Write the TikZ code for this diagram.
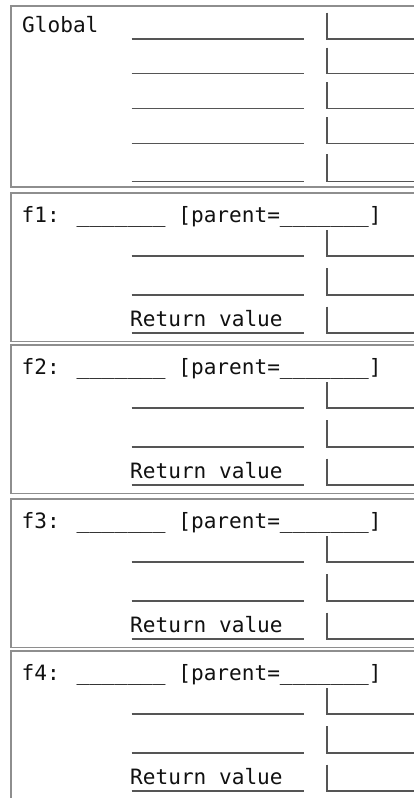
\documentclass[tikz,border=0pt]{standalone}
\usepackage{fontspec}
\newfontfamily\codefont{DejaVu Sans Mono}
\definecolor{framegray}{HTML}{8E8E8E}
\definecolor{linegray}{HTML}{555555}
\definecolor{txtgray}{HTML}{111111}
\begin{document}
\begin{tikzpicture}[x=1pt,y=-1pt,
  frame/.style={draw=framegray,line width=1.7pt},
  blank/.style={draw=linegray,line width=1.3pt},
  slot/.style={draw=linegray,line width=1.3pt},
  lbl/.style={inner sep=0pt,anchor=base west,text=txtgray,
    font=\codefont\fontsize{21.1}{26}\selectfont}]
\useasboundingbox (0,0) rectangle (414,798);
\clip (0,0) rectangle (414,798);
\fill[white] (0,0) rectangle (414,798);
% Global frame
\draw[frame] (11,6) rectangle (425,187);
\node[lbl] (global) at (22,32.3) {Global};
\foreach \ly/\vy in {39/12.7, 73.3/47.7, 108.3/82, 143.3/117, 181.7/154} {
  \draw[blank] (131.5,\ly) -- (303.5,\ly);
  \draw[slot] (327,\vy) |- (425,\ly);
}
% function frames
\foreach \t/\fname in {193/f1, 345/f2, 499/f3, 651/f4} {
  \draw[frame] (11,\t) rectangle (425,\t+148.5);
  \node[lbl] (title-\fname) at (21.5,\t+29) {\fname: \_\_\_\_\_\_\_ [parent=\_\_\_\_\_\_\_]};
  \foreach \ly/\vy in {63/37, 102/75, 140/113.7} {
    \draw[blank] (131.5,\t+\ly) -- (303.5,\t+\ly);
    \draw[slot] (327,\t+\vy) |- (425,\t+\ly);
  }
  \node[lbl] (ret-\fname) at (130,\t+133.5) {Return value};
}
\end{tikzpicture}
\end{document}
